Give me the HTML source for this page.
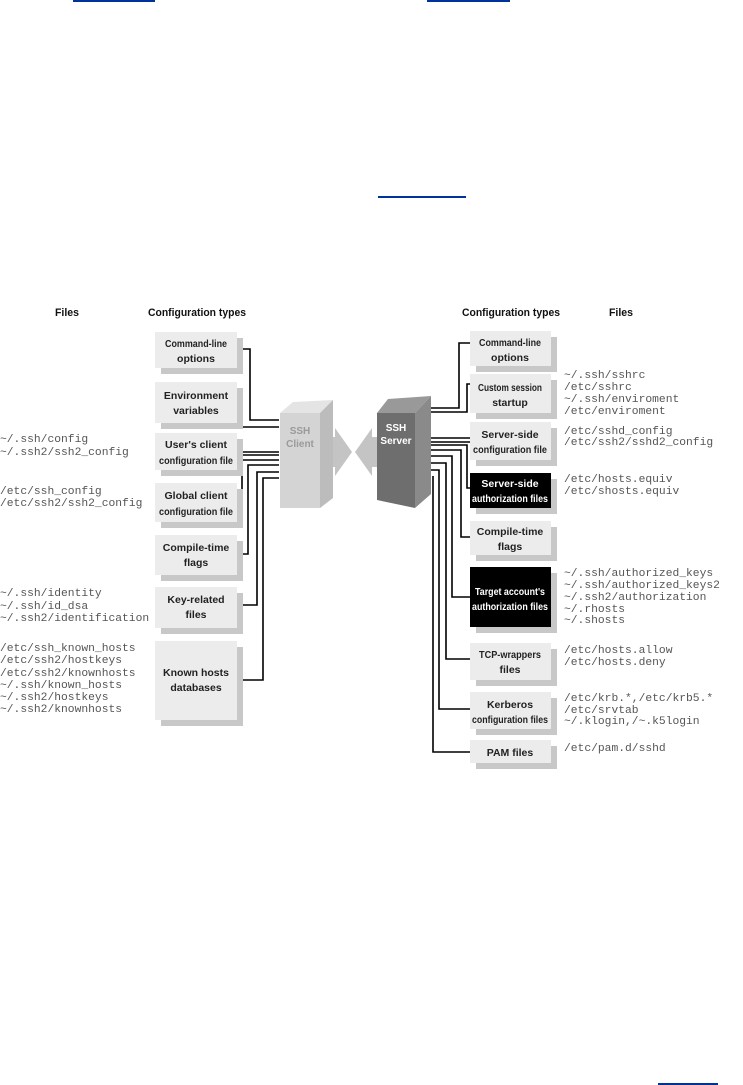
<!DOCTYPE html>
<html><head><meta charset="utf-8"><style>
html,body{margin:0;padding:0;background:#fff;width:743px;height:1085px;overflow:hidden}
svg{display:block}
.h{font-family:"Liberation Sans",sans-serif;font-weight:bold;font-size:11px;fill:#111}
.b{font-family:"Liberation Sans",sans-serif;font-weight:bold;font-size:10.5px;fill:#222}
.w{fill:#fff}
.m{font-family:"Liberation Mono",monospace;font-size:11.3px;fill:#555}
</style></head><body>
<svg width="743" height="1085" viewBox="0 0 743 1085" xmlns="http://www.w3.org/2000/svg">
<rect x="73" y="0" width="82" height="2" fill="#003399"/>
<rect x="427" y="0" width="83" height="2" fill="#003399"/>
<rect x="378" y="196" width="88" height="2" fill="#003399"/>
<rect x="658" y="1083" width="60" height="2" fill="#003399"/>

<text class="h" x="55" y="316" textLength="24" lengthAdjust="spacingAndGlyphs">Files</text>
<text class="h" x="148" y="316" textLength="98" lengthAdjust="spacingAndGlyphs">Configuration types</text>
<text class="h" x="462" y="316" textLength="98" lengthAdjust="spacingAndGlyphs">Configuration types</text>
<text class="h" x="609" y="316" textLength="24" lengthAdjust="spacingAndGlyphs">Files</text>

<g fill="none" stroke="#000" stroke-width="1.6">
<polyline points="237,349 250,349 250,420 279,420"/>
<polyline points="239,400 242,400 242,427 279,427"/>
<line x1="237" y1="452" x2="279" y2="452"/>
<line x1="237" y1="455" x2="279" y2="455"/>
<polyline points="239,500 242,500 242,460 279,460"/>
<polyline points="237,554 248,554 248,465 279,465"/>
<polyline points="237,605 257,605 257,472 279,472"/>
<polyline points="237,680 263,680 263,478 279,478"/>
<polyline points="470,343 459,343 459,408 431,408"/>
<polyline points="470,384 467,384 467,412 431,412"/>
<line x1="431" y1="438" x2="470" y2="438"/>
<line x1="431" y1="442" x2="470" y2="442"/>
<polyline points="470,488 467,488 467,445 431,445"/>
<polyline points="470,537 461,537 461,450 431,450"/>
<polyline points="470,597 452,597 452,456 431,456"/>
<polyline points="470,659 446,659 446,463 431,463"/>
<polyline points="470,709 439,709 439,470 431,470"/>
<polyline points="470,752 433,752 433,476"/>
</g>

<g>
<rect x="161" y="338" width="82" height="36" fill="#c8c8c8"/><rect x="155" y="332" width="82" height="36" fill="#ececec"/>
<rect x="161" y="388" width="82" height="41" fill="#c8c8c8"/><rect x="155" y="382" width="82" height="41" fill="#ececec"/>
<rect x="161" y="439" width="82" height="37" fill="#c8c8c8"/><rect x="155" y="433" width="82" height="37" fill="#ececec"/>
<rect x="161" y="489" width="82" height="39" fill="#c8c8c8"/><rect x="155" y="483" width="82" height="39" fill="#ececec"/>
<rect x="161" y="541" width="82" height="40" fill="#c8c8c8"/><rect x="155" y="535" width="82" height="40" fill="#ececec"/>
<rect x="161" y="593" width="82" height="41" fill="#c8c8c8"/><rect x="155" y="587" width="82" height="41" fill="#ececec"/>
<rect x="161" y="647" width="82" height="79" fill="#c8c8c8"/><rect x="155" y="641" width="82" height="79" fill="#ececec"/>
</g>
<g class="b" text-anchor="middle">
<text x="196" y="347" textLength="62" lengthAdjust="spacingAndGlyphs">Command-line</text><text x="196" y="362">options</text>
<text x="196" y="399">Environment</text><text x="196" y="414">variables</text>
<text x="196" y="448">User's client</text><text x="196" y="464" textLength="74" lengthAdjust="spacingAndGlyphs">configuration file</text>
<text x="196" y="499">Global client</text><text x="196" y="515" textLength="74" lengthAdjust="spacingAndGlyphs">configuration file</text>
<text x="196" y="551">Compile-time</text><text x="196" y="566">flags</text>
<text x="196" y="603">Key-related</text><text x="196" y="618">files</text>
<text x="196" y="676">Known hosts</text><text x="196" y="691">databases</text>
</g>

<g>
<rect x="476" y="337" width="81" height="35" fill="#c8c8c8"/><rect x="470" y="331" width="81" height="35" fill="#ececec"/>
<rect x="476" y="380" width="81" height="39" fill="#c8c8c8"/><rect x="470" y="374" width="81" height="39" fill="#ececec"/>
<rect x="476" y="428" width="81" height="38" fill="#c8c8c8"/><rect x="470" y="422" width="81" height="38" fill="#ececec"/>
<rect x="476" y="479" width="81" height="35" fill="#c8c8c8"/><rect x="470" y="473" width="81" height="35" fill="#000"/>
<rect x="476" y="527" width="81" height="34" fill="#c8c8c8"/><rect x="470" y="521" width="81" height="34" fill="#ececec"/>
<rect x="476" y="573" width="81" height="60" fill="#c8c8c8"/><rect x="470" y="567" width="81" height="60" fill="#000"/>
<rect x="476" y="649" width="81" height="37" fill="#c8c8c8"/><rect x="470" y="643" width="81" height="37" fill="#ececec"/>
<rect x="476" y="698" width="81" height="37" fill="#c8c8c8"/><rect x="470" y="692" width="81" height="37" fill="#ececec"/>
<rect x="476" y="746" width="81" height="23" fill="#c8c8c8"/><rect x="470" y="740" width="81" height="23" fill="#ececec"/>
</g>
<g class="b" text-anchor="middle">
<text x="510" y="346" textLength="62" lengthAdjust="spacingAndGlyphs">Command-line</text><text x="510" y="361">options</text>
<text x="510" y="391" textLength="64" lengthAdjust="spacingAndGlyphs">Custom session</text><text x="510" y="406">startup</text>
<text x="510" y="438">Server-side</text><text x="510" y="453" textLength="74" lengthAdjust="spacingAndGlyphs">configuration file</text>
<text class="b w" x="510" y="487">Server-side</text><text class="b w" x="510" y="502" textLength="76" lengthAdjust="spacingAndGlyphs">authorization files</text>
<text x="510" y="535">Compile-time</text><text x="510" y="550">flags</text>
<text class="b w" x="510" y="595" textLength="70" lengthAdjust="spacingAndGlyphs">Target account's</text><text class="b w" x="510" y="610" textLength="76" lengthAdjust="spacingAndGlyphs">authorization files</text>
<text x="510" y="658" textLength="62" lengthAdjust="spacingAndGlyphs">TCP-wrappers</text><text x="510" y="673">files</text>
<text x="510" y="708">Kerberos</text><text x="510" y="723" textLength="76" lengthAdjust="spacingAndGlyphs">configuration files</text>
<text x="510" y="756">PAM files</text>
</g>

<polygon points="320,437 335,437 335,428 352,452 335,476 335,467 320,467" fill="#c4c4c4"/>
<polygon points="377,437 372,437 372,428 355,452 372,476 372,467 377,467" fill="#c4c4c4"/>
<polygon points="280,413 293,402 333,400 320,413" fill="#e4e4e4"/>
<polygon points="320,413 333,400 333,498 320,508" fill="#bcbcbc"/>
<rect x="280" y="413" width="40" height="95" fill="#d4d4d4"/>
<text x="300" y="434" text-anchor="middle" class="b" style="fill:#9a9a9a;font-size:10px">SSH</text>
<text x="300" y="447" text-anchor="middle" class="b" style="fill:#9a9a9a;font-size:10px">Client</text>

<polygon points="377,413 388,399 431,396 415,413" fill="#999"/>
<polygon points="415,413 431,396 431,494 415,508" fill="#8a8a8a"/>
<polygon points="377,413 415,413 415,508 377,500" fill="#6e6e6e"/>
<text x="396" y="431" text-anchor="middle" class="b w" style="font-size:10px">SSH</text>
<text x="396" y="444" text-anchor="middle" class="b w" style="font-size:10px">Server</text>

<g class="m">
<text x="0" y="442">~/.ssh/config</text><text x="0" y="455">~/.ssh2/ssh2_config</text>
<text x="0" y="494">/etc/ssh_config</text><text x="0" y="506">/etc/ssh2/ssh2_config</text>
<text x="0" y="596">~/.ssh/identity</text><text x="0" y="609">~/.ssh/id_dsa</text><text x="0" y="621">~/.ssh2/identification</text>
<text x="0" y="651">/etc/ssh_known_hosts</text><text x="0" y="663">/etc/ssh2/hostkeys</text><text x="0" y="676">/etc/ssh2/knownhosts</text>
<text x="0" y="688">~/.ssh/known_hosts</text><text x="0" y="700">~/.ssh2/hostkeys</text><text x="0" y="712">~/.ssh2/knownhosts</text>
</g>
<g class="m">
<text x="564" y="378">~/.ssh/sshrc</text><text x="564" y="390">/etc/sshrc</text><text x="564" y="402">~/.ssh/enviroment</text><text x="564" y="414">/etc/enviroment</text>
<text x="564" y="434">/etc/sshd_config</text><text x="564" y="445">/etc/ssh2/sshd2_config</text>
<text x="564" y="482">/etc/hosts.equiv</text><text x="564" y="494">/etc/shosts.equiv</text>
<text x="564" y="576">~/.ssh/authorized_keys</text><text x="564" y="588">~/.ssh/authorized_keys2</text><text x="564" y="600">~/.ssh2/authorization</text><text x="564" y="612">~/.rhosts</text><text x="564" y="623">~/.shosts</text>
<text x="564" y="653">/etc/hosts.allow</text><text x="564" y="665">/etc/hosts.deny</text>
<text x="564" y="701">/etc/krb.*,/etc/krb5.*</text><text x="564" y="713">/etc/srvtab</text><text x="564" y="724">~/.klogin,/~.k5login</text>
<text x="564" y="751">/etc/pam.d/sshd</text>
</g>
</svg>
</body></html>
